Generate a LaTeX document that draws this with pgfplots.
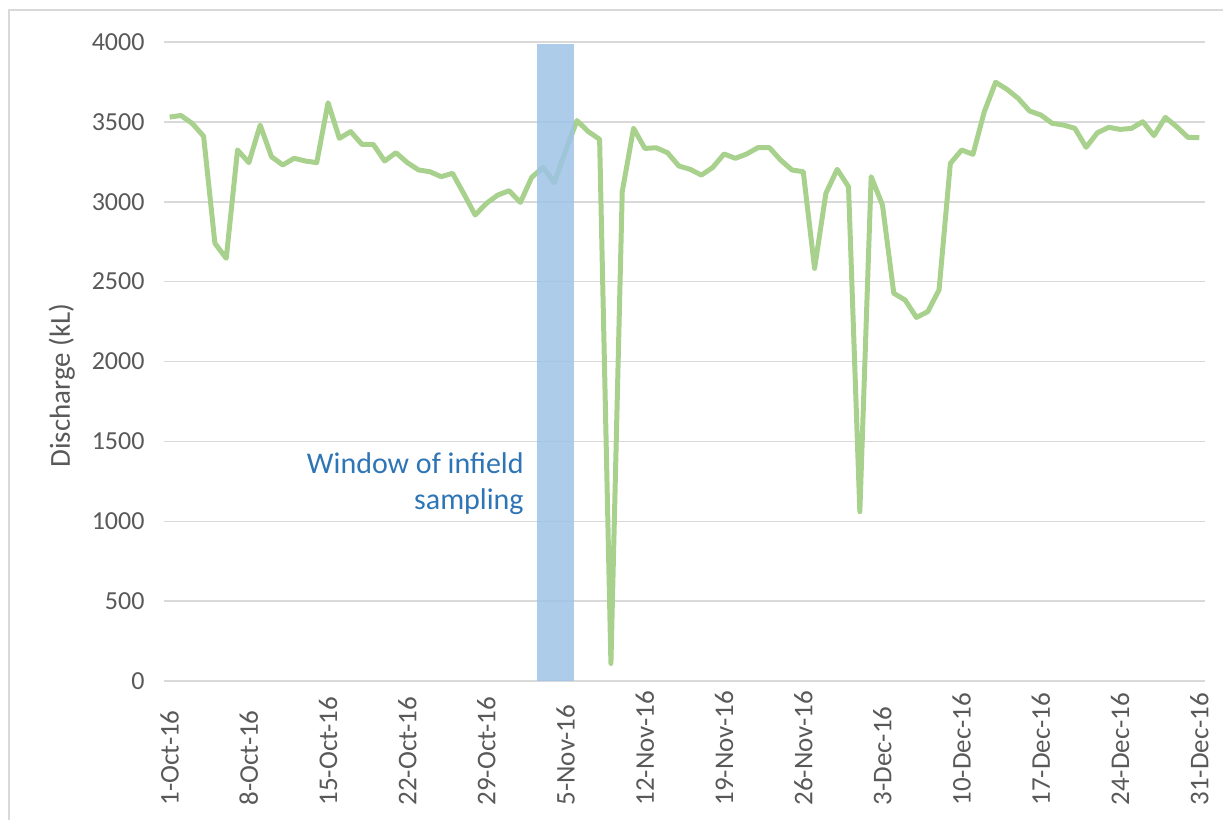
\documentclass[border=0pt]{standalone}
\usepackage{fontspec}
\setmainfont{Carlito}
\usepackage{pgfplots}
\pgfplotsset{compat=1.18}
\definecolor{linegreen}{RGB}{169,209,142}
\definecolor{winblue}{RGB}{157,195,230}
\definecolor{wintext}{RGB}{46,117,182}
\definecolor{gridgray}{RGB}{217,217,217}
\definecolor{labgray}{RGB}{89,89,89}

\pgfplotstableread{
day val
0 3530
1 3540
2 3490
3 3410
4 2740
5 2646
6 3324
7 3245
8 3480
9 3282
10 3230
11 3272
12 3255
13 3245
14 3620
15 3397
16 3439
17 3359
18 3359
19 3255
20 3307
21 3245
22 3199
23 3188
24 3157
25 3178
26 3050
27 2917
28 2990
29 3042
30 3069
31 2996
32 3153
33 3215
34 3119
35 3320
36 3508
37 3439
38 3391
39 110
40 3063
41 3460
42 3334
43 3338
44 3307
45 3224
46 3203
47 3167
48 3215
49 3299
50 3272
51 3299
52 3339
53 3339
54 3261
55 3199
56 3188
57 2583
58 3053
59 3203
60 3094
61 1060
62 3157
63 2980
64 2427
65 2385
66 2276
67 2312
68 2448
69 3240
70 3324
71 3297
72 3564
73 3748
74 3704
75 3647
76 3568
77 3543
78 3491
79 3480
80 3460
81 3341
82 3432
83 3466
84 3453
85 3459
86 3501
87 3414
88 3528
89 3470
90 3403
91 3401
}\discharge

\begin{document}
\begin{tikzpicture}[x=1pt,y=1pt]
% page frame (1 px = 1 pt)
\useasboundingbox (-164,-139) rectangle (1059,681);
\draw[gridgray, line width=1.5] (-155,-139) -- (-155,671) -- (1059,671);
\begin{axis}[
    at={(0,0)}, anchor=south west,
    scale only axis,
    width=1041pt, height=639pt,
    xmin=-0.5, xmax=91.5,
    ymin=0, ymax=4000,
    xtick={0,7,...,91},
    xticklabels={1-Oct-16,8-Oct-16,15-Oct-16,22-Oct-16,29-Oct-16,5-Nov-16,12-Nov-16,19-Nov-16,26-Nov-16,3-Dec-16,10-Dec-16,17-Dec-16,24-Dec-16,31-Dec-16},
    ytick={0,500,...,4000},
    major tick length=0pt,
    ymajorgrids,
    grid style={gridgray, line width=1.5pt},
    axis x line*=bottom,
    axis y line*=left,
    x axis line style={gridgray, line width=1.5pt, -},
    y axis line style={draw=none},
    /pgf/number format/assume math mode=true,
    /pgf/number format/1000 sep={},
    tick label style={font=\fontsize{26}{30}\selectfont, text=labgray},
    x tick label style={rotate=90, anchor=west, xshift=-128pt, font=\fontsize{27}{30}\selectfont},
    y tick label style={xshift=-16pt},
    ylabel={Discharge (kL)},
    ylabel style={font=\fontsize{29}{32}\selectfont, text=labgray, yshift=10pt, xshift=-24pt},
    clip=false,
]
\addplot[linegreen, line width=5pt, line join=round] table[x=day, y=val] {\discharge};
\addplot[draw=none, fill=winblue, fill opacity=0.85] coordinates {(32.5,0) (35.7,0) (35.7,3990) (32.5,3990)} -- cycle;
\node[anchor=east, align=right, text=wintext, font=\fontsize{30}{36}\selectfont] at (axis cs:31.6,1233) {Window of infield\\sampling};
\end{axis}
\end{tikzpicture}
\end{document}
